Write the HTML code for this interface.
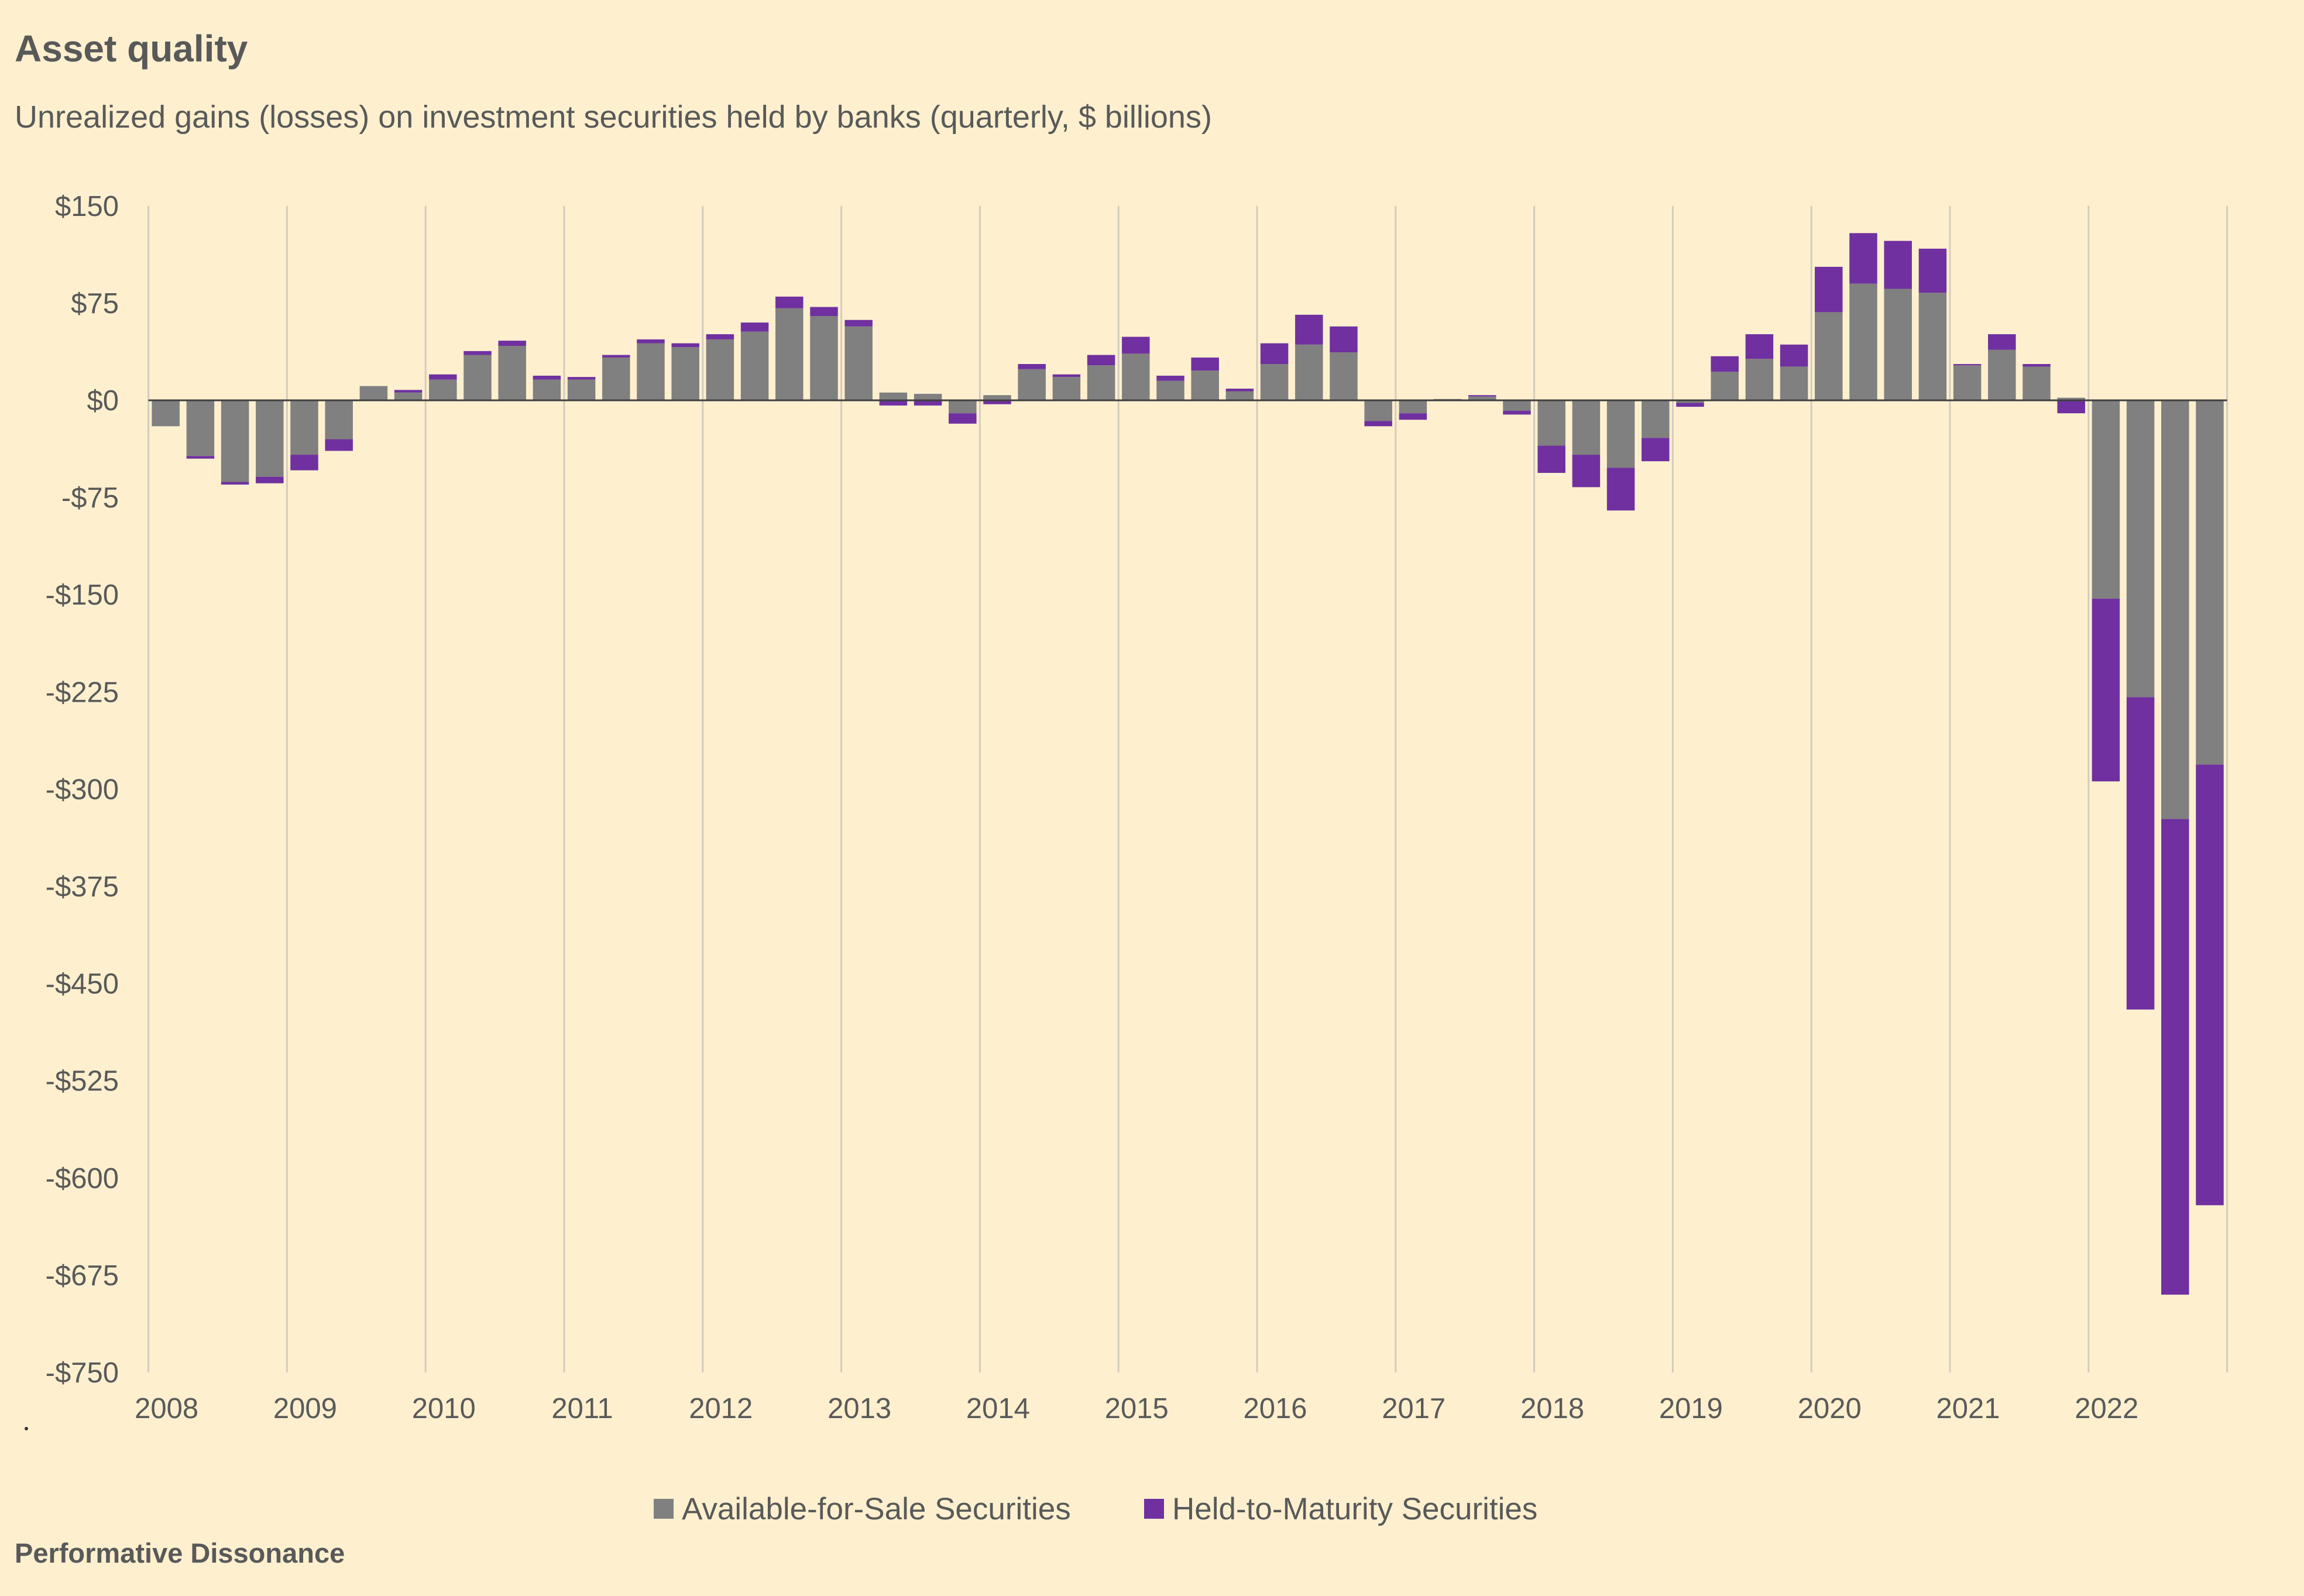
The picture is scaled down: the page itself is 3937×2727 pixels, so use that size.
<!DOCTYPE html>
<html><head><meta charset="utf-8"><style>
html,body{margin:0;padding:0;background:#fef0cf;}
svg{display:block;font-family:"Liberation Sans",sans-serif;}
</style></head><body>
<svg id="chart" width="3937" height="2727" viewBox="0 0 3937 2727" xmlns="http://www.w3.org/2000/svg">
<rect x="0" y="0" width="3937" height="2727" fill="#fef0cf"/>
<text x="25" y="105" font-size="64" font-weight="bold" fill="#595959">Asset quality</text>
<text x="25" y="218" font-size="54" fill="#595959">Unrealized gains (losses) on investment securities held by banks (quarterly, $ billions)</text>
<g id="grid"></g>
<g id="bars"></g>
<g id="yaxis"></g>
<g id="xaxis"></g>
<circle cx="45" cy="2441" r="3" fill="#333"/>
<g>
<rect x="1117" y="2561" width="34" height="34" fill="#808080"/>
<text x="1165" y="2596" font-size="53" fill="#595959">Available-for-Sale Securities</text>
<rect x="1955" y="2561" width="34" height="34" fill="#7030a0"/>
<text x="2003" y="2596" font-size="53" fill="#595959">Held-to-Maturity Securities</text>
</g>
<text x="25" y="2670" font-size="47" font-weight="bold" fill="#595959">Performative Dissonance</text>
</svg>
<script>
const years = [2008,2009,2010,2011,2012,2013,2014,2015,2016,2017,2018,2019,2020,2021,2022];
const yTicks = [150,75,0,-75,-150,-225,-300,-375,-450,-525,-600,-675,-750];
const afsValues = [-20,-43,-63,-59, -42,-30,11,6, 16,35,42,16, 16,33,44,41, 47,53,71,65, 57,6,5,-10, 4,24,18,27, 36,15,23,7, 28,43,37,-16, -10,1,3,-8, -35,-42,-52,-29, -2,22,32,26, 68,90,86,83, 27,39,26,2, -153,-229,-323,-281];
const htmValues = [0,-2,-2,-5, -12,-9,0,2, 4,3,4,3, 2,2,3,3, 4,7,9,7, 5,-4,-4,-8, -3,4,2,8, 13,4,10,2, 16,23,20,-4, -5,0,1,-3, -21,-25,-33,-18, -3,12,19,17, 35,39,37,34, 1,12,2,-10, -141,-241,-367,-340];

const NS='http://www.w3.org/2000/svg';
const x0=253.6, yearW=236.8, qW=yearW/4, barW=47.5;
const yZero=684, perUnit=(2345-684)/750;
const yScale=v=>yZero-v*perUnit;
const xScale=i=>x0+i*qW+(qW-barW)/2;
const fmt=v=>(v<0?'-$':'$')+Math.abs(v);
function mk(tag,attrs,parent){const e=document.createElementNS(NS,tag);for(const k in attrs)e.setAttribute(k,attrs[k]);parent.appendChild(e);return e;}
const grid=document.getElementById('grid'),bars=document.getElementById('bars'),ya=document.getElementById('yaxis'),xa=document.getElementById('xaxis');
const yTop=yScale(150), yBot=yScale(-750);
for(let k=0;k<=years.length;k++){
  const gx=x0+k*yearW;
  const l=mk('line',{x1:gx,x2:gx,y1:yTop,y2:yBot,stroke:'#d4ccbd','stroke-width':3},grid);
  
  
}
years.forEach((yr,k)=>{
  const t=mk('text',{x:x0+k*yearW+31,y:2423,'font-size':49,fill:'#595959','text-anchor':'middle'},xa);
  t.textContent=yr;
  
  
});
yTicks.forEach(v=>{
  const t=mk('text',{x:203,y:yScale(v)+17,'font-size':49,fill:'#595959','text-anchor':'end'},ya);
  t.textContent=fmt(v);
  
  
});
afsValues.forEach((a,i)=>{
  const h=htmValues[i];
  let pos=0,neg=0;
  [[a,'#808080','bar-afs'],[h,'#7030a0','bar-htm']].forEach(([v,c,n])=>{
    if(v===0)return;
    let y1,y2;
    if(v>0){y1=yScale(pos+v);y2=yScale(pos);pos+=v;}else{y1=yScale(neg);y2=yScale(neg+v);neg+=v;}
    const r=mk('rect',{x:xScale(i),y:y1,width:barW,height:Math.max(1,y2-y1),fill:c},bars);
    
    
  });
});
const zl=mk('line',{x1:x0,x2:x0+years.length*yearW,y1:yZero,y2:yZero,stroke:'#404040','stroke-width':3},xa);


</script>
</body></html>
